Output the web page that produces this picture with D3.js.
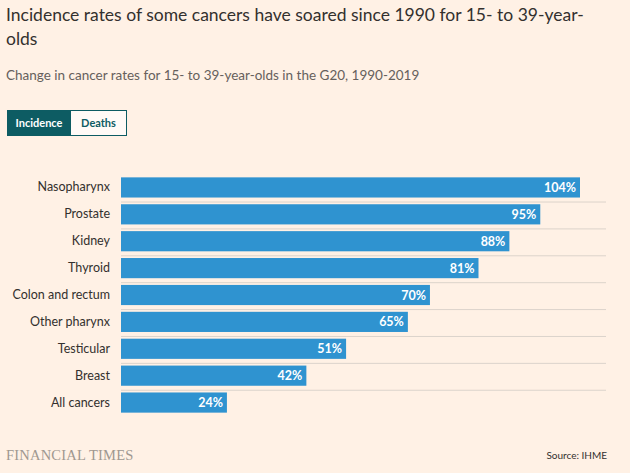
<!DOCTYPE html>
<html>
<head>
<meta charset="utf-8">
<script src="https://cdn.jsdelivr.net/npm/d3@7"></script>
<style>
  html, body { margin: 0; padding: 0; background: #FFF1E5; }
  svg { display: block; }
</style>
</head>
<body>
<svg id="chart" width="630" height="473"></svg>
<script>
const categories = ["Nasopharynx", "Prostate", "Kidney", "Thyroid", "Colon and rectum", "Other pharynx", "Testicular", "Breast", "All cancers"];
const values = [104, 95, 88, 81, 70, 65, 51, 42, 24];
const valueLabels = ["104%", "95%", "88%", "81%", "70%", "65%", "51%", "42%", "24%"];

const svg = d3.select("#chart");
const W = 630, H = 473;
const font = "Lato, 'Open Sans', sans-serif";

svg.append("rect").attr("width", W).attr("height", H).attr("fill", "#FFF1E5");

// Title
const title = svg.append("text").attr("x", 6).attr("y", 21)
  .attr("font-family", font).attr("font-size", 17.5).attr("fill", "#33302e");
title.append("tspan").attr("x", 6).attr("dy", 0).text("Incidence rates of some cancers have soared since 1990 for 15- to 39-year-");
title.append("tspan").attr("x", 6).attr("dy", 24).text("olds");

svg.append("text").attr("x", 6).attr("y", 80)
  .attr("font-family", font).attr("font-size", 13.5).attr("fill", "#66605c")
  .text("Change in cancer rates for 15- to 39-year-olds in the G20, 1990-2019");

// Buttons
svg.append("rect").attr("x", 7.5).attr("y", 110.5).attr("width", 63).attr("height", 25)
  .attr("fill", "#0d5c63").attr("stroke", "#0d5c63");
svg.append("rect").attr("x", 70.5).attr("y", 110.5).attr("width", 56).attr("height", 25)
  .attr("fill", "#fffaf6").attr("stroke", "#0d5c63");
svg.append("text").attr("x", 39).attr("y", 127).attr("text-anchor", "middle")
  .attr("font-family", font).attr("font-size", 11).attr("font-weight", "bold").attr("fill", "#ffffff").text("Incidence");
svg.append("text").attr("x", 98.5).attr("y", 127).attr("text-anchor", "middle")
  .attr("font-family", font).attr("font-size", 11).attr("font-weight", "bold").attr("fill", "#0d5c63").text("Deaths");

// Scales
const x = d3.scaleLinear().domain([0, 104]).range([121, 580]);
const y = d3.scaleBand().domain(categories).range([174, 416]).paddingInner(0.25).paddingOuter(0.125);

const g = svg.append("g");

// separator lines under each row except last
g.selectAll("line.sep").data(categories.slice(0, -1)).join("line")
  .attr("class", "sep")
  .attr("x1", 121).attr("x2", 606)
  .attr("y1", d => y(d) + y.bandwidth() + 4.5)
  .attr("y2", d => y(d) + y.bandwidth() + 4.5)
  .attr("stroke", "#dcd3cb").attr("stroke-width", 1);

g.selectAll("rect.bar").data(categories).join("rect")
  .attr("class", "bar")
  .attr("x", x(0))
  .attr("y", d => y(d))
  .attr("width", (d, i) => x(values[i]) - x(0))
  .attr("height", y.bandwidth())
  .attr("fill", "#2f93d0");

g.selectAll("text.val").data(categories).join("text")
  .attr("class", "val")
  .attr("x", (d, i) => x(values[i]) - 4)
  .attr("y", d => y(d) + y.bandwidth() / 2 + 4.5)
  .attr("text-anchor", "end")
  .attr("font-family", font).attr("font-size", 12.5).attr("font-weight", "bold")
  .attr("fill", "#ffffff")
  .text((d, i) => valueLabels[i]);

// y axis labels
const yAxis = d3.axisLeft(y).tickSize(0).tickPadding(0);
const ax = svg.append("g").attr("transform", "translate(110,0)").call(yAxis);
ax.select(".domain").remove();
ax.selectAll("text").attr("font-family", font).attr("font-size", 12.5).attr("fill", "#33302e");

// Footer
svg.append("text").attr("x", 6).attr("y", 460)
  .attr("font-family", "'Liberation Serif', 'DejaVu Serif', serif").attr("font-size", 14.5)
  .attr("fill", "#a09890").attr("letter-spacing", 0.2).text("FINANCIAL TIMES");
svg.append("text").attr("x", 607).attr("y", 459).attr("text-anchor", "end")
  .attr("font-family", font).attr("font-size", 10).attr("fill", "#33302e").text("Source: IHME");
</script>
</body>
</html>
